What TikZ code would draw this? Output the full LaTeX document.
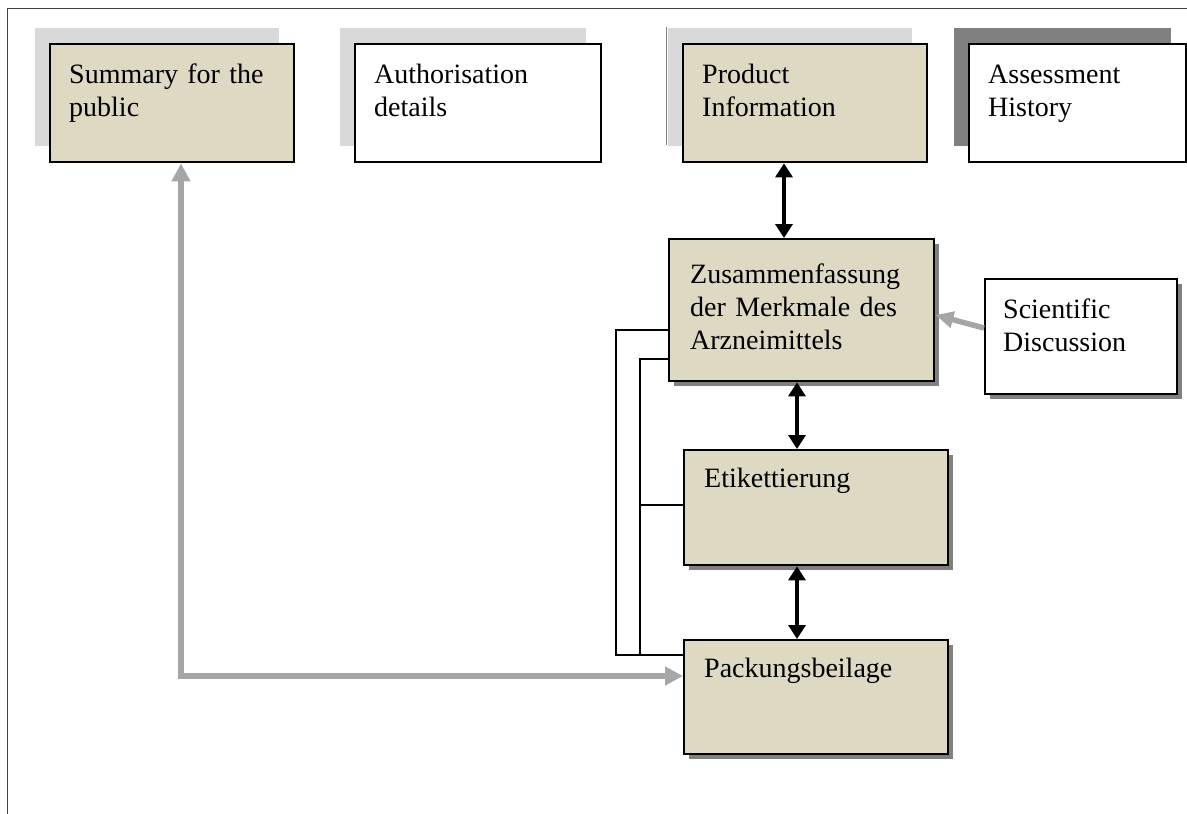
\documentclass[tikz,border=0pt]{standalone}
\usepackage{fontspec}
\setmainfont{Liberation Serif}
\usetikzlibrary{arrows.meta,shadows,calc}
\definecolor{beige}{HTML}{DDD9C3}
\definecolor{lshadow}{HTML}{D9D9D9}
\definecolor{dshadow}{HTML}{808080}
\definecolor{garrow}{HTML}{A6A6A6}
\definecolor{framec}{HTML}{404040}
\tikzset{
  box/.style={draw=black, line width=2.4pt, rectangle, anchor=north west, inner sep=0pt},
  topbox/.style={box, minimum width=245pt, minimum height=118pt},
  lsh/.style={drop shadow={shadow xshift=-15pt, shadow yshift=16pt, fill=lshadow, opacity=1, draw=none}},
  dsh/.style={drop shadow={shadow xshift=-15pt, shadow yshift=16pt, fill=dshadow, opacity=1, draw=none}},
  ssh/.style={drop shadow={shadow xshift=5pt, shadow yshift=-5pt, fill=dshadow, opacity=1, draw=none}},
  txt/.style={anchor=base west, inner sep=0pt, text width=240pt, align=left, font=\fontsize{28}{33}\selectfont},
  blk/.style={draw=black, line width=3.4pt, {Triangle[width=17pt,length=14pt]}-{Triangle[width=17pt,length=14pt]}},
  gry/.style={draw=garrow, line width=5.5pt, -{Triangle[width=18pt,length=18pt]}},
  thin/.style={draw=black, line width=2pt}
}
\begin{document}
\begin{tikzpicture}[x=1pt,y=-1pt]
\useasboundingbox (0,0) rectangle (1187,814);
\draw[framec, line width=1pt] (7,814) -- (7,8) -- (1187,8);

% top row
\node[topbox, lsh, fill=beige, minimum width=244pt] (sum) at (49,43) {};
\node[topbox, lsh, fill=white, minimum width=246pt] (auth) at (354,43) {};
\node[topbox, lsh, fill=beige, minimum width=244pt] (pi) at (682,43) {};
\draw[gray, line width=1pt] (666.5,27) -- (666.5,145);
\node[topbox, dsh, fill=white, minimum width=217pt] (ah) at (968,43) {};

\node[txt] (tsum) at (69,83) {Summary for the\\public};
\node[txt] (tauth) at (374,83) {Authorisation\\details};
\node[txt] (tpi) at (702,83) {Product\\Information};
\node[txt] (tah) at (988,83) {Assessment\\History};

% middle column
\node[box, ssh, fill=beige, minimum width=265pt, minimum height=142pt] (zus) at (668,238) {};
\node[box, ssh, fill=white, minimum width=192pt, minimum height=115pt] (sci) at (984,278) {};
\node[box, ssh, fill=beige, minimum width=264pt, minimum height=115pt] (eti) at (683,449) {};
\node[box, ssh, fill=beige, minimum width=264pt, minimum height=114pt] (pack) at (683,639) {};

\node[txt] (tzus) at (690,283) {Zusammenfassung\\der Merkmale des\\Arzneimittels};
\node[txt] (tsci) at (1003,318) {Scientific\\Discussion};
\node[txt] (teti) at (704,487) {Etikettierung};
\node[txt] (tpack) at (704,677) {Packungsbeilage};

% helper coordinates
\coordinate (ax1) at (784,0);
\coordinate (ax2) at (797,0);
\coordinate (vl1) at (616,0);
\coordinate (vl2) at (640,0);
\coordinate (ga) at (181,0);
\coordinate (y330) at (0,330);
\coordinate (y359) at (0,359);
\coordinate (y505) at (0,505);
\coordinate (y655) at (0,655);
\coordinate (y676) at (0,676);
\coordinate (scia) at (0,328);
\coordinate (zusa) at (0,315);

% black arrows
\draw[blk] (pi.south -| ax1) -- (zus.north -| ax1);
\draw[blk] (zus.south -| ax2) -- (eti.north -| ax2);
\draw[blk] (eti.south -| ax2) -- (pack.north -| ax2);

% thin connector lines
\draw[thin] (zus.west |- y330) -- (vl1 |- y330) -- (vl1 |- y655) -- (pack.west |- y655);
\draw[thin] (zus.west |- y359) -- (vl2 |- y359) -- (vl2 |- y655);
\draw[thin] (eti.west |- y505) -- (vl2 |- y505);

% gray arrows
\draw[gry, {Triangle[width=18pt,length=18pt]}-{Triangle[width=18pt,length=18pt]}] (sum.south -| ga) -- (ga |- y676) -- (pack.west |- y676);
\draw[gry, line width=5.5pt, -{Triangle[width=16pt,length=18pt]}] (sci.west |- scia) -- (zus.east |- zusa);
\end{tikzpicture}
\end{document}
